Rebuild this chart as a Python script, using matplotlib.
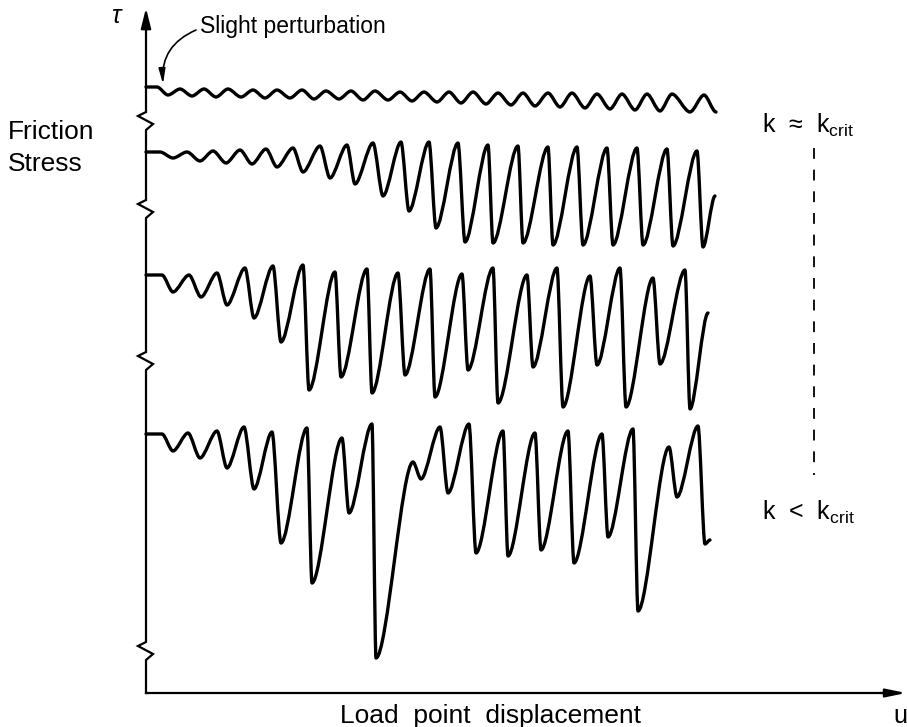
import matplotlib.pyplot as plt
from matplotlib.path import Path
from matplotlib.patches import PathPatch

plt.rcParams['font.family'] = ['Liberation Sans', 'DejaVu Sans']

# extrema of each friction trace (x = load point displacement, y = stress, drawing units, y down)
t1_x = [146, 157, 168, 180, 192, 204, 216, 228, 241, 253, 265, 277, 290, 302, 314, 326,
        339, 351, 363, 375, 388, 400, 412, 424, 437, 449, 461, 473, 486, 498, 511, 523,
        535, 548, 560, 572, 585, 597, 610, 622, 635, 647, 660, 672, 690, 704, 716]
t1_y = [87, 87, 95, 89, 96, 89, 97, 89, 97, 90, 98, 90, 98, 90, 99, 91,
        99, 91, 100, 91, 100, 92, 101, 92, 102, 92, 103, 92, 104, 93, 105, 93,
        106, 93, 107, 93, 108, 94, 109, 94, 110, 94, 111, 94, 112, 95, 112]

t2_x = [146, 160, 173, 187, 200, 213, 226, 240, 252, 266, 277, 293, 303, 320, 330, 347,
        355, 373, 383, 401, 409, 429, 436, 458, 465, 488, 493, 518, 523, 548, 553, 577,
        583, 607, 613, 637, 643, 667, 673, 697, 703, 715]
t2_y = [152, 152, 158, 152, 161, 151, 163, 150, 164, 149, 167, 148, 172, 146, 178, 145,
        184, 143, 196, 142, 211, 142, 228, 143, 242, 145, 243, 146, 243, 147, 245, 147,
        245, 148, 245, 148, 245, 149, 246, 151, 247, 196]

t3_x = [146, 162, 173, 189, 201, 217, 227, 245, 254, 273, 281, 303, 309, 335, 341, 367,
        372, 398, 405, 430, 435, 462, 468, 493, 498, 527, 533, 557, 563, 590, 597, 620,
        626, 653, 660, 685, 690, 708]
t3_y = [275, 275, 292, 275, 297, 273, 305, 268, 318, 266, 342, 265, 390, 272, 377, 269,
        393, 273, 375, 269, 397, 274, 370, 268, 403, 275, 367, 268, 407, 276, 365, 268,
        407, 278, 364, 270, 409, 313]

t4_x = [146, 162, 173, 188, 200, 217, 227, 244, 254, 272, 281, 307, 312, 342, 349, 372,
        376, 413, 421, 440, 448, 469, 476, 503, 508, 535, 541, 568, 574, 602, 608, 633,
        638, 669, 677, 698, 705, 710]
t4_y = [434, 434, 451, 433, 458, 431, 468, 427, 489, 432, 543, 428, 583, 438, 513, 424,
        658, 462, 479, 427, 493, 424, 553, 431, 556, 433, 550, 431, 563, 434, 537, 429,
        611, 447, 497, 426, 544, 540]

traces = [(t1_x, t1_y), (t2_x, t2_y), (t3_x, t3_y), (t4_x, t4_y)]

# axis break marks on the stress axis
break_y = [112, 200, 352, 642]


def smooth_path(xs, ys, a=0.3):
    # bezier through the extrema, horizontal tangent at each one
    verts = [(xs[0], ys[0])]
    codes = [Path.MOVETO]
    for x0, y0, x1, y1 in zip(xs[:-1], ys[:-1], xs[1:], ys[1:]):
        d = a * (x1 - x0)
        verts += [(x0 + d, y0), (x1 - d, y1), (x1, y1)]
        codes += [Path.CURVE4] * 3
    return Path(verts, codes)


fig = plt.figure(figsize=(9.07, 7.27), dpi=100)
ax = fig.add_axes([0, 0, 1, 1])
ax.set_xlim(0, 907)
ax.set_ylim(727, 0)
ax.axis('off')

for xs, ys in traces:
    ax.add_patch(PathPatch(smooth_path(xs, ys), fill=False, lw=2.4, color='black',
                           capstyle='round', joinstyle='round'))

# stress axis with zigzag breaks
x0 = 146
ax_x, ax_y = [x0], [693]
for b in sorted(break_y, reverse=True):
    ax_x += [x0, x0, 153, 138, x0]
    ax_y += [b + 20, b + 18, b + 12, b + 4, b]
ax_x.append(x0)
ax_y.append(22)
ax.plot(ax_x, ax_y, color='black', lw=1.6, solid_joinstyle='miter')
ax.annotate('', xy=(x0, 8), xytext=(x0, 28),
            arrowprops=dict(arrowstyle='-|>,head_length=1.2,head_width=0.3', color='black',
                            lw=1.6, shrinkA=0, shrinkB=0))

# displacement axis
ax.plot([x0, 890], [693, 693], color='black', lw=1.6)
ax.annotate('', xy=(906, 693), xytext=(880, 693),
            arrowprops=dict(arrowstyle='-|>,head_length=1.2,head_width=0.25', color='black',
                            lw=1.6, shrinkA=0, shrinkB=0))

# labels
ax.text(116, 16, 'τ', fontsize=18, style='italic', ha='center', va='center')
ax.text(200, 27, 'Slight perturbation', fontsize=16.5, ha='left', va='center')
ax.annotate('', xy=(163, 84), xytext=(196, 30),
            arrowprops=dict(arrowstyle='-|>,head_length=0.9,head_width=0.2', color='black',
                            lw=1.2, connectionstyle='arc3,rad=0.35', shrinkA=0, shrinkB=0))
ax.text(8, 132, 'Friction', fontsize=19, ha='left', va='center')
ax.text(8, 164, 'Stress', fontsize=19, ha='left', va='center')
ax.text(490, 716, 'Load  point  displacement', fontsize=19, ha='center', va='center')
ax.text(893, 716, 'u', fontsize=18, ha='left', va='center')

ax.text(762, 125, r'k  ≈  k$_{\mathregular{crit}}$', fontsize=18, ha='left', va='center')
ax.text(762, 512, r'k  <  k$_{\mathregular{crit}}$', fontsize=18, ha='left', va='center')
ax.plot([814, 814], [148, 475], color='black', lw=1.3, linestyle=(0, (6, 6)))

fig.savefig('out.png', dpi=100)
